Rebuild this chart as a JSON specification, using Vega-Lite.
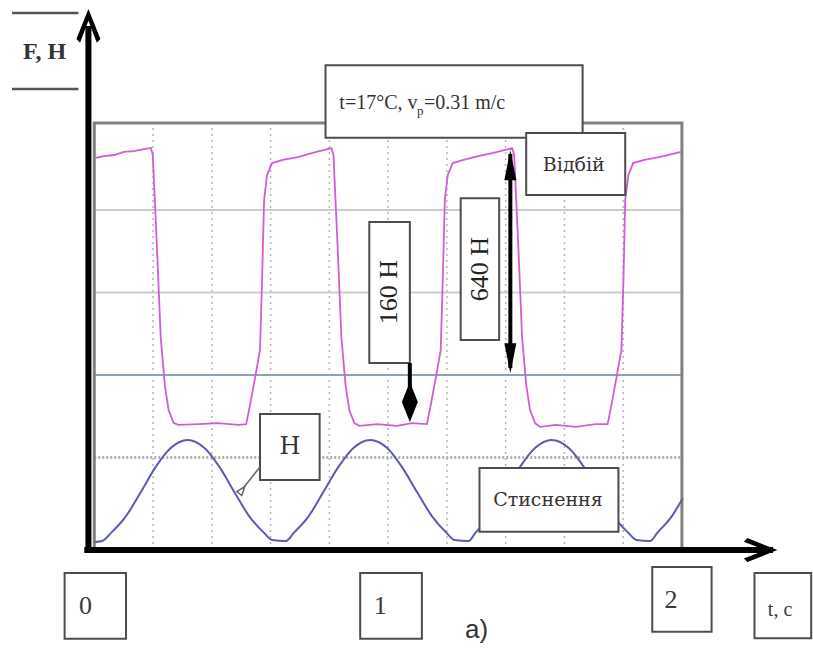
{
  "$schema": "https://vega.github.io/schema/vega-lite/v6.json",
  "width": 813,
  "height": 651,
  "autosize": {"type": "fit", "contains": "padding"},
  "padding": 0,
  "background": "white",
  "config": {"view": {"stroke": null}},
  "datasets": {
    "pink": [{"t":0,"F":618},{"t":0.034,"F":624},{"t":0.068,"F":627},{"t":0.101,"F":636},{"t":0.135,"F":638},{"t":0.169,"F":644},{"t":0.193,"F":647},{"t":0.199,"F":627},{"t":0.213,"F":370},{"t":0.226,"F":108},{"t":0.24,"F":-28},{"t":0.253,"F":-100},{"t":0.27,"F":-137},{"t":0.287,"F":-142},{"t":0.355,"F":-140},{"t":0.422,"F":-137},{"t":0.49,"F":-142},{"t":0.517,"F":-140},{"t":0.53,"F":-86},{"t":0.547,"F":-9},{"t":0.564,"F":71},{"t":0.571,"F":271},{"t":0.578,"F":499},{"t":0.588,"F":570},{"t":0.605,"F":604},{"t":0.642,"F":613},{"t":0.693,"F":621},{"t":0.743,"F":633},{"t":0.794,"F":644},{"t":0.807,"F":647},{"t":0.814,"F":627},{"t":0.828,"F":370},{"t":0.841,"F":108},{"t":0.855,"F":-28},{"t":0.868,"F":-100},{"t":0.885,"F":-137},{"t":0.902,"F":-145},{"t":0.963,"F":-140},{"t":1.03,"F":-145},{"t":1.081,"F":-137},{"t":1.132,"F":-140},{"t":1.145,"F":-86},{"t":1.162,"F":-9},{"t":1.179,"F":71},{"t":1.186,"F":271},{"t":1.193,"F":499},{"t":1.203,"F":570},{"t":1.22,"F":604},{"t":1.257,"F":613},{"t":1.307,"F":624},{"t":1.358,"F":633},{"t":1.409,"F":644},{"t":1.422,"F":647},{"t":1.429,"F":627},{"t":1.443,"F":370},{"t":1.456,"F":108},{"t":1.47,"F":-28},{"t":1.483,"F":-100},{"t":1.5,"F":-137},{"t":1.517,"F":-148},{"t":1.571,"F":-142},{"t":1.639,"F":-148},{"t":1.706,"F":-140},{"t":1.747,"F":-140},{"t":1.76,"F":-86},{"t":1.777,"F":-9},{"t":1.794,"F":71},{"t":1.801,"F":271},{"t":1.807,"F":499},{"t":1.818,"F":570},{"t":1.834,"F":604},{"t":1.872,"F":613},{"t":1.922,"F":621},{"t":1.997,"F":636}],
    "blue": [{"t":0,"F":-476},{"t":0.027,"F":-473},{"t":0.057,"F":-450},{"t":0.108,"F":-402},{"t":0.159,"F":-333},{"t":0.209,"F":-262},{"t":0.26,"F":-208},{"t":0.318,"F":-185},{"t":0.375,"F":-208},{"t":0.426,"F":-262},{"t":0.476,"F":-333},{"t":0.527,"F":-402},{"t":0.578,"F":-450},{"t":0.605,"F":-470},{"t":0.652,"F":-473},{"t":0.679,"F":-450},{"t":0.73,"F":-402},{"t":0.78,"F":-333},{"t":0.831,"F":-262},{"t":0.882,"F":-208},{"t":0.939,"F":-185},{"t":0.997,"F":-208},{"t":1.047,"F":-262},{"t":1.098,"F":-333},{"t":1.149,"F":-402},{"t":1.199,"F":-450},{"t":1.226,"F":-470},{"t":1.274,"F":-473},{"t":1.297,"F":-450},{"t":1.348,"F":-402},{"t":1.399,"F":-333},{"t":1.449,"F":-262},{"t":1.5,"F":-208},{"t":1.557,"F":-185},{"t":1.615,"F":-208},{"t":1.666,"F":-262},{"t":1.716,"F":-333},{"t":1.767,"F":-402},{"t":1.818,"F":-450},{"t":1.845,"F":-470},{"t":1.892,"F":-473},{"t":1.916,"F":-450},{"t":1.966,"F":-402},{"t":2.003,"F":-351}],
    "vgrid": [{"t":0.2,"F":-499,"F2":718},{"t":0.4,"F":-499,"F2":718},{"t":0.6,"F":-499,"F2":718},{"t":0.8,"F":-499,"F2":718},{"t":1.0,"F":-499,"F2":718},{"t":1.2,"F":-499,"F2":718},{"t":1.4,"F":-499,"F2":718},{"t":1.6,"F":-499,"F2":718},{"t":1.8,"F":-499,"F2":718}],
    "hgrid": [{"t":0,"t2":2.0,"F":470},{"t":0,"t2":2.0,"F":235}],
    "zeroline": [{"t":0,"t2":2.0,"F":0}],
    "dotline": [{"t":0,"t2":2.0,"F":-235}],
    "frame": [{"t":0,"t2":2.0,"F":-499,"F2":718}],
    "boxes": [
      {"t":0.787,"t2":1.662,"F":883,"F2":676},
      {"t":1.47,"t2":1.807,"F":690,"F2":513},
      {"t":0.936,"t2":1.074,"F":436,"F2":34},
      {"t":1.247,"t2":1.378,"F":504,"F2":100},
      {"t":0.564,"t2":0.767,"F":-111,"F2":-299},
      {"t":1.311,"t2":1.784,"F":-265,"F2":-447},
      {"t":-0.101,"t2":0.108,"F":-564,"F2":-752},
      {"t":0.905,"t2":1.115,"F":-564,"F2":-752},
      {"t":1.899,"t2":2.101,"F":-547,"F2":-732},
      {"t":2.247,"t2":2.44,"F":-564,"F2":-750}
    ],
    "fhlines": [{"t":-0.28,"t2":-0.054,"F":1032},{"t":-0.28,"t2":-0.054,"F":815}],
    "vArrows": [{"t":1.074,"F":34,"F2":-60},{"t":1.416,"F":630,"F2":20}],
    "hArrow": [{"t":0.564,"t2":0.507,"F":-262,"F2":-322}],
    "yAxis": [{"t":-0.02,"F":-499,"F2":995}],
    "xAxis": [{"t":-0.034,"t2":2.31,"F":-499}],
    "diamond": [{"t":1.074,"F":-77}],
    "triUp": [{"t":1.416,"F":598}],
    "triDown": [{"t":1.416,"F":48}],
    "chevUp": [{"t":-0.02,"F":986}],
    "chevRight": [{"t":2.257,"F":-499}],
    "hHead": [{"t":0.503,"F":-328}],
    "fh": [{"label":"F, Н","t":-0.169,"F":920}],
    "titleMain": [{"label":"t=17°C, v","t":0.834,"F":775},{"label":"=0.31 m/c","t":1.122,"F":775}],
    "titleSub": [{"label":"р","t":1.098,"F":752}],
    "lbl21": [{"label":"Відбій","t":1.632,"F":598},{"label":"Стиснення","t":1.544,"F":-356}],
    "lblH": [{"label":"Н","t":0.666,"F":-205}],
    "rot": [{"label":"160 Н","t":1.003,"F":236},{"label":"640 Н","t":1.314,"F":302}],
    "ticks": [{"label":"0","t":-0.03,"F":-658},{"label":"1","t":0.973,"F":-658},{"label":"2","t":1.963,"F":-641}],
    "tc": [{"label":"t, c","t":2.334,"F":-670}],
    "sub": [{"label":"a)","t":1.301,"F":-727}]
  },
  "encoding": {
    "x": {"field": "t", "type": "quantitative", "scale": {"domain": [-0.3209, 2.4257], "nice": false, "zero": false}, "axis": null},
    "y": {"field": "F", "type": "quantitative", "scale": {"domain": [-786.6, 1068.75], "nice": false, "zero": false}, "axis": null}
  },
  "layer": [
    {"data": {"name": "vgrid"}, "mark": {"type": "rule", "stroke": "#b3b3b3", "strokeWidth": 1.5, "strokeDash": [2, 4]}, "encoding": {"y2": {"field": "F2"}}},
    {"data": {"name": "hgrid"}, "mark": {"type": "rule", "stroke": "#cccccc", "strokeWidth": 2}, "encoding": {"x2": {"field": "t2"}}},
    {"data": {"name": "zeroline"}, "mark": {"type": "rule", "stroke": "#8da3b4", "strokeWidth": 2}, "encoding": {"x2": {"field": "t2"}}},
    {"data": {"name": "dotline"}, "mark": {"type": "rule", "stroke": "#b0b0b0", "strokeWidth": 3, "strokeDash": [2, 2]}, "encoding": {"x2": {"field": "t2"}}},
    {"data": {"name": "frame"}, "mark": {"type": "rect", "fillOpacity": 0, "stroke": "#808080", "strokeWidth": 3}, "encoding": {"x2": {"field": "t2"}, "y2": {"field": "F2"}}},
    {"data": {"name": "pink"}, "mark": {"type": "line", "stroke": "#d65ad6", "strokeWidth": 1.8}, "encoding": {}},
    {"data": {"name": "blue"}, "mark": {"type": "line", "stroke": "#5b5bb0", "strokeWidth": 2, "interpolate": "monotone"}, "encoding": {}},
    {"data": {"name": "boxes"}, "mark": {"type": "rect", "fill": "white", "stroke": "#4d4d4d", "strokeWidth": 2}, "encoding": {"x2": {"field": "t2"}, "y2": {"field": "F2"}}},
    {"data": {"name": "fhlines"}, "mark": {"type": "rule", "stroke": "#555555", "strokeWidth": 2.5}, "encoding": {"x2": {"field": "t2"}}},
    {"data": {"name": "vArrows"}, "mark": {"type": "rule", "stroke": "black", "strokeWidth": 4}, "encoding": {"y2": {"field": "F2"}}},
    {"data": {"name": "hArrow"}, "mark": {"type": "rule", "stroke": "#666666", "strokeWidth": 1.5}, "encoding": {"x2": {"field": "t2"}, "y2": {"field": "F2"}}},
    {"data": {"name": "yAxis"}, "mark": {"type": "rule", "stroke": "black", "strokeWidth": 6}, "encoding": {"y2": {"field": "F2"}}},
    {"data": {"name": "xAxis"}, "mark": {"type": "rule", "stroke": "black", "strokeWidth": 6}, "encoding": {"x2": {"field": "t2"}}},
    {"data": {"name": "diamond"}, "mark": {"type": "point", "shape": "M0,-1L0.4,0L0,1L-0.4,0Z", "size": 1600, "filled": true, "fill": "black", "opacity": 1}, "encoding": {}},
    {"data": {"name": "triUp"}, "mark": {"type": "point", "shape": "M0,-1L0.4,1L-0.4,1Z", "size": 900, "filled": true, "fill": "black", "opacity": 1}, "encoding": {}},
    {"data": {"name": "triDown"}, "mark": {"type": "point", "shape": "M0,1L0.4,-1L-0.4,-1Z", "size": 900, "filled": true, "fill": "black", "opacity": 1}, "encoding": {}},
    {"data": {"name": "chevUp"}, "mark": {"type": "point", "shape": "M0,-1L0.6,0.5L0.42,0.68L0,-0.42L-0.42,0.68L-0.6,0.5Z", "size": 1600, "filled": true, "fill": "black", "opacity": 1}, "encoding": {}},
    {"data": {"name": "chevRight"}, "mark": {"type": "point", "shape": "M1,0L-0.5,0.6L-0.68,0.42L0.42,0L-0.68,-0.42L-0.5,-0.6Z", "size": 1600, "filled": true, "fill": "black", "opacity": 1}, "encoding": {}},
    {"data": {"name": "hHead"}, "mark": {"type": "point", "shape": "M0,-1L0.7,1L-0.7,1Z", "size": 80, "angle": 38, "filled": false, "stroke": "#666666", "strokeWidth": 1.5, "opacity": 1}, "encoding": {}},
    {"data": {"name": "fh"}, "mark": {"type": "text", "font": "Liberation Serif, DejaVu Serif, serif", "fontWeight": "bold", "fontSize": 24, "fill": "#333333", "align": "center", "baseline": "middle"}, "encoding": {"text": {"field": "label"}}},
    {"data": {"name": "titleMain"}, "mark": {"type": "text", "font": "Liberation Serif, DejaVu Serif, serif", "fontSize": 20, "fill": "#333333", "align": "left", "baseline": "middle"}, "encoding": {"text": {"field": "label"}}},
    {"data": {"name": "titleSub"}, "mark": {"type": "text", "font": "Liberation Serif, DejaVu Serif, serif", "fontSize": 13, "fill": "#333333", "align": "left", "baseline": "middle"}, "encoding": {"text": {"field": "label"}}},
    {"data": {"name": "lbl21"}, "mark": {"type": "text", "font": "DejaVu Serif", "fontSize": 19, "fill": "#333333", "align": "center", "baseline": "middle"}, "encoding": {"text": {"field": "label"}}},
    {"data": {"name": "lblH"}, "mark": {"type": "text", "font": "DejaVu Serif", "fontSize": 24, "fill": "#333333", "align": "center", "baseline": "middle"}, "encoding": {"text": {"field": "label"}}},
    {"data": {"name": "rot"}, "mark": {"type": "text", "font": "Liberation Serif, DejaVu Serif, serif", "fontSize": 26, "fill": "#222222", "align": "center", "baseline": "middle", "angle": 270}, "encoding": {"text": {"field": "label"}}},
    {"data": {"name": "ticks"}, "mark": {"type": "text", "font": "Liberation Serif, DejaVu Serif, serif", "fontSize": 26, "fill": "#3a3a3a", "align": "center", "baseline": "middle"}, "encoding": {"text": {"field": "label"}}},
    {"data": {"name": "tc"}, "mark": {"type": "text", "font": "Liberation Serif, DejaVu Serif, serif", "fontSize": 20, "fill": "#3a3a3a", "align": "center", "baseline": "middle"}, "encoding": {"text": {"field": "label"}}},
    {"data": {"name": "sub"}, "mark": {"type": "text", "font": "Liberation Sans, Arial, sans-serif", "fontSize": 26, "fill": "#333333", "align": "center", "baseline": "middle"}, "encoding": {"text": {"field": "label"}}}
  ]
}
